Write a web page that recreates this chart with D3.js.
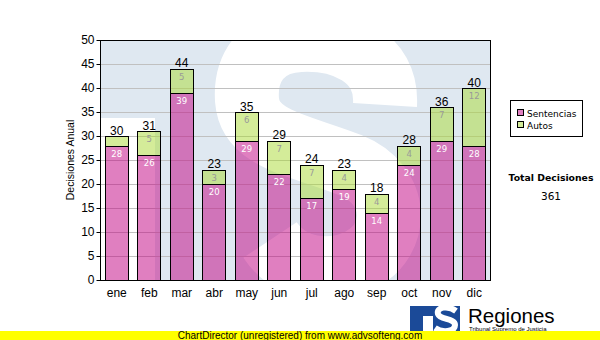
<!DOCTYPE html>
<html><head><meta charset="utf-8">
<script src="https://cdn.jsdelivr.net/npm/d3@7"></script>
<style>body{margin:0;background:#fff}svg{display:block}</style>
</head><body>
<svg id="c" width="600" height="340"></svg>
<script>
const months = ["ene","feb","mar","abr","may","jun","jul","ago","sep","oct","nov","dic"];
const sentencias = [28,26,39,20,29,22,17,19,14,24,29,28];
const autos = [2,5,5,3,6,7,7,4,4,4,7,12];
const yTicks = [0,5,10,15,20,25,30,35,40,45,50];
const seriesNames = ["Sentencias","Autos"];
const seriesColors = ["#c10081","#aad933"];
const labelColors = ["#ffffff","#999999"];
const yTitle = "Decisiones Anual";
const totalTitle = "Total Decisiones";
const footer = "ChartDirector (unregistered) from www.advsofteng.com";

const svg = d3.select("#c");
const L = 100, R = 490, T = 40, B = 280;
const x = d3.scaleBand().domain(months).range([L, R]).paddingInner(0.3).paddingOuter(0.15);
const y = d3.scaleLinear().domain([0, 50]).range([B, T]);
const SANS = "'Liberation Sans', Arial, sans-serif";
const VERD = "'DejaVu Sans', Verdana, sans-serif";

// plot background with watermark
svg.append("defs").append("clipPath").attr("id","pc")
  .append("rect").attr("x",L).attr("y",T).attr("width",R-L).attr("height",B-T);
const bg = svg.append("g").attr("clip-path","url(#pc)");
bg.append("rect").attr("x",L).attr("y",T).attr("width",R-L).attr("height",B-T).attr("fill","#dfe8f1");
bg.append("rect").attr("x",L).attr("y",118).attr("width",55).attr("height",170).attr("fill","#fff");
bg.append("path")
  .attr("d","M 385 105 C 388 55, 340 38, 300 40 C 260 42, 245 70, 247 100 C 250 140, 300 145, 350 165 C 400 185, 400 240, 360 260 C 330 275, 290 270, 270 240")
  .attr("fill","none").attr("stroke","#fff").attr("stroke-width",64);

// grid
svg.append("g").selectAll("line").data(yTicks.filter(d => d > 0 && d < 50)).join("line")
  .attr("x1",L).attr("x2",R).attr("y1",d=>Math.round(y(d))+0.5).attr("y2",d=>Math.round(y(d))+0.5)
  .attr("stroke","#c0c0c0").attr("stroke-width",1);

// stacked bars
const rows = months.map((m,i)=>({m, Sentencias: sentencias[i], Autos: autos[i]}));
const stack = d3.stack().keys(seriesNames)(rows);
const gb = svg.append("g");
stack.forEach((layer, si) => {
  gb.selectAll(null).data(layer).join("rect")
    .attr("x", d => Math.round(x(d.data.m)) + 0.5)
    .attr("y", d => Math.round(y(d[1])) + 0.5)
    .attr("width", Math.round(x.bandwidth()))
    .attr("height", d => Math.round(y(d[0])) - Math.round(y(d[1])))
    .attr("fill", seriesColors[si]).attr("fill-opacity", 0.5)
    .attr("stroke", "#000").attr("stroke-width", 1);
});
// segment labels
stack.forEach((layer, si) => {
  gb.selectAll(null).data(layer.filter(d => y(d[0]) - y(d[1]) > 12)).join("text")
    .attr("x", d => x(d.data.m) + x.bandwidth()/2 + 0.5)
    .attr("y", d => y(d[1]) + 11)
    .attr("text-anchor","middle")
    .attr("font-family",VERD).attr("font-size", "8.5px")
    .attr("fill", labelColors[si])
    .text(d => d[1] - d[0]);
});
// totals
gb.selectAll(null).data(rows).join("text")
  .attr("x", d => x(d.m) + x.bandwidth()/2 + 0.5)
  .attr("y", d => y(d.Sentencias + d.Autos) - 1.5)
  .attr("text-anchor","middle").attr("font-family",SANS).attr("font-size","12px").attr("fill","#000")
  .text(d => d.Sentencias + d.Autos);

// frame
svg.append("rect").attr("x",L+0.5).attr("y",T+0.5).attr("width",R-L).attr("height",B-T)
  .attr("fill","none").attr("stroke","#000");

// axes
const ya = svg.append("g").attr("transform",`translate(${L+0.5},0)`)
  .call(d3.axisLeft(y).tickValues(yTicks).tickSize(4).tickPadding(2));
ya.select(".domain").remove();
ya.selectAll("text").attr("font-family",SANS).attr("font-size","12px").attr("fill","#000");
ya.selectAll("line").attr("stroke","#000");

const xa = svg.append("g").attr("transform",`translate(0.5,${B})`)
  .call(d3.axisBottom(x).tickSize(0).tickPadding(8));
xa.select(".domain").remove();
xa.selectAll("text").attr("font-family",SANS).attr("font-size","12px").attr("fill","#000");

svg.append("text").attr("transform","translate(74,160) rotate(-90)")
  .attr("text-anchor","middle").attr("font-family",SANS).attr("font-size","10.5px").text(yTitle);

// legend
const lg = svg.append("g");
lg.append("rect").attr("x",510.5).attr("y",100.5).attr("width",72).attr("height",36)
  .attr("fill","#fff").attr("stroke","#000");
seriesNames.forEach((n,i) => {
  lg.append("rect").attr("x",517.5).attr("y",109.5 + i*12).attr("width",6).attr("height",6)
    .attr("fill",seriesColors[i]).attr("fill-opacity",0.5).attr("stroke","#000");
  lg.append("text").attr("x",527).attr("y",116.5 + i*12)
    .attr("font-family",VERD).attr("font-size","9px").text(n);
});

svg.append("text").attr("x",551).attr("y",181).attr("text-anchor","middle")
  .attr("font-family",VERD).attr("font-weight","bold").attr("font-size","9.3px")
  .text(totalTitle);
svg.append("text").attr("x",551).attr("y",199.5).attr("text-anchor","middle")
  .attr("font-family",VERD).attr("font-size","10.5px")
  .text(d3.sum(sentencias) + d3.sum(autos));

// logo
const logo = svg.append("g");
logo.append("path").attr("d","M410 306 H460 V340 H433 V316 H423 V340 H410 Z").attr("fill","#1b4a98");
logo.append("path")
  .attr("d","M456 311 C 448 305, 436 307, 438 314 C 440 320, 455 318, 455 325 C 455 332, 442 333, 435 328")
  .attr("fill","none").attr("stroke","#fff").attr("stroke-width",6);
logo.append("text").attr("x",468).attr("y",323).attr("font-family",SANS).attr("font-size","20.5px").text("Regiones");
logo.append("text").attr("x",469).attr("y",330.5).attr("font-family",SANS).attr("font-size","6px").text("Tribunal Supremo de Justicia");

// footer
svg.append("rect").attr("x",0).attr("y",331).attr("width",600).attr("height",9).attr("fill","#ffff00");
svg.append("text").attr("x",300).attr("y",338.5).attr("text-anchor","middle")
  .attr("font-family",SANS).attr("font-size","10px").text(footer);
</script>
</body></html>
